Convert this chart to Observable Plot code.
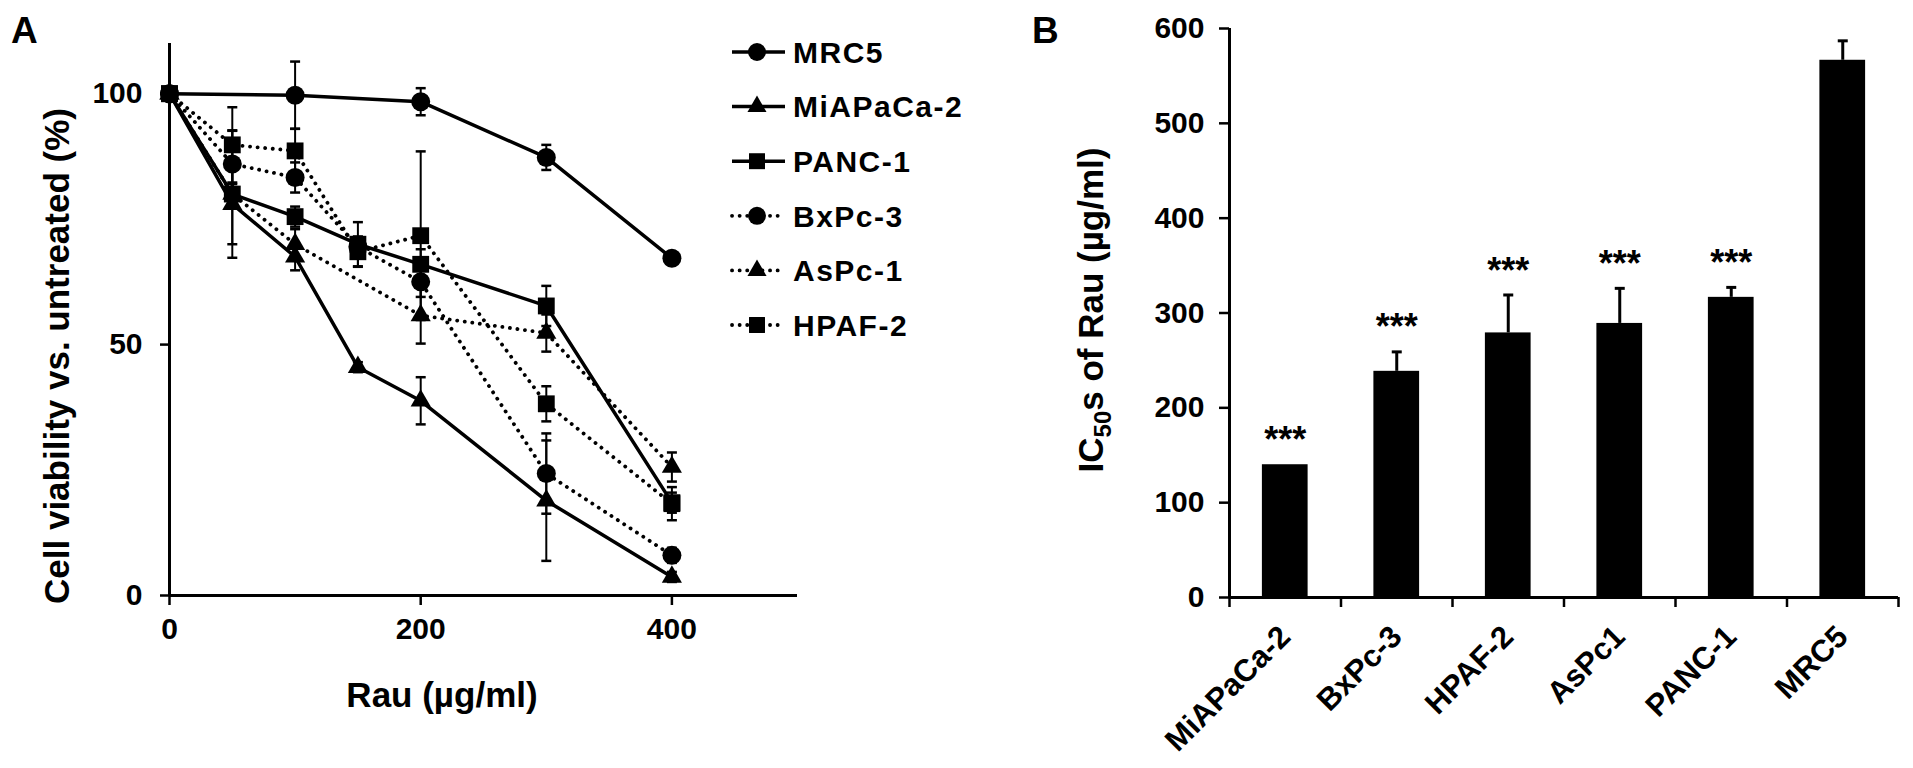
<!DOCTYPE html>
<html>
<head>
<meta charset="utf-8">
<script src="https://cdn.jsdelivr.net/npm/d3@7"></script>
<script src="https://cdn.jsdelivr.net/npm/@observablehq/plot@0.6"></script>
<style>
  body { margin: 0; background: #fff; }
  #wrap { position: relative; width: 1913px; height: 768px; overflow: hidden; background: #fff; }
  #wrap > svg { position: absolute; top: 0; }
</style>
</head>
<body>
<div id="wrap"></div>
<script>
// ---------- Panel A data ----------
const doses = [0, 50, 100, 150, 200, 300, 400];
const seriesNames = ["MRC5", "MiAPaCa-2", "PANC-1", "BxPc-3", "AsPc-1", "HPAF-2"];
const seriesSymbols = ["circle", "triangle", "square", "circle", "triangle", "square"];
const seriesDotted = [false, false, false, true, true, true];

const mrc5      = [100, null, 99.7, null, 98.4, 87.3, 67.2];
const mrc5Err   = [0,   null, 6.7,  null, 2.7,  2.5,  1.2];
const miapaca   = [100, 78,   67.5, 45.5, 38.8, 18.9, 3.7];
const miapacaErr= [0,   8,    2.7,  1,    4.7,  12,   1];
const panc1     = [100, 80,   75.5, 70,   66,   57.7, 18.5];
const panc1Err  = [0,   2,    2,    4.4,  3,    4,    2];
const bxpc3     = [100, 86,   83.3, 69.5, 62.5, 24.3, 8];
const bxpc3Err  = [0,   6.6,  3,    2,    3,    8,    1.5];
const aspc1     = [100, 80,   70,   null, 55.8, 52.3, 25.6];
const aspc1Err  = [0,   12.7, 3,    null, 5.6,  3.7,  2.9];
const hpaf2     = [100, 89.8, 88.6, 68.5, 71.7, 38.2, 18.3];
const hpaf2Err  = [0,   7.5,  4.4,  3,    16.8, 3.5,  3.3];

const xTicksA = [0, 200, 400];
const yTicksA = [0, 50, 100];

// ---------- Panel B data ----------
const cellLines = ["MiAPaCa-2", "BxPc-3", "HPAF-2", "AsPc1", "PANC-1", "MRC5"];
const ic50      = [140, 238.5, 279, 289, 316.5, 566.5];
const ic50Err   = [0, 20.5, 40, 37, 10.5, 20.5];
const signif    = ["***", "***", "***", "***", "***", ""];
const yTicksB   = [0, 100, 200, 300, 400, 500, 600];

// ---------- build tables ----------
const seriesValues = [mrc5, miapaca, panc1, bxpc3, aspc1, hpaf2];
const seriesErrors = [mrc5Err, miapacaErr, panc1Err, bxpc3Err, aspc1Err, hpaf2Err];
const rowsA = [];
seriesNames.forEach((name, s) => {
  doses.forEach((dose, i) => {
    const v = seriesValues[s][i];
    if (v == null) return;
    rowsA.push({series: name, dose, v, e: seriesErrors[s][i], dotted: seriesDotted[s]});
  });
});
const errA = rowsA.filter(d => d.e > 0);
const capsA = errA.flatMap(d => [{dose: d.dose, y: d.v - d.e}, {dose: d.dose, y: d.v + d.e}]);

const barsB = cellLines.map((name, i) => ({name, i, v: ic50[i], e: ic50Err[i], sig: signif[i]}));
const errB = barsB.filter(d => d.e > 0);

const FONT = "'Liberation Sans', Arial, Helvetica, sans-serif";
const capSymbol = {
  draw(ctx, size) {
    const w = Math.sqrt(size / Math.PI);
    ctx.moveTo(-w, 0);
    ctx.lineTo(w, 0);
  }
};
const smallTriangle = { draw(ctx, size) { d3.symbolTriangle.draw(ctx, size * 0.62); } };
const symbolObjects = {circle: d3.symbolCircle, triangle: smallTriangle, square: d3.symbolSquare};

const wrap = document.getElementById("wrap");

// ---------- Panel A ----------
const plotA = Plot.plot({
  width: 1000,
  height: 768,
  marginLeft: 169,
  marginRight: 203,
  marginTop: 43,
  marginBottom: 173,
  style: {fontFamily: FONT, fontWeight: "bold", color: "#000", background: "transparent", overflow: "visible"},
  x: {domain: [0, 500]},
  y: {domain: [0, 110]},
  symbol: {domain: seriesNames, range: seriesSymbols.map(s => symbolObjects[s])},
  marks: [
    Plot.axisX({ticks: xTicksA, tickSize: 10, tickPadding: 12, label: null, fontSize: 30, fontWeight: "bold", strokeWidth: 2.5}),
    Plot.axisY({ticks: yTicksA, tickSize: 9, tickPadding: 18, label: null, fontSize: 30, fontWeight: "bold", strokeWidth: 2.5}),
    Plot.ruleX([0], {strokeWidth: 3}),
    Plot.ruleY([0], {strokeWidth: 3}),
    Plot.ruleX(errA, {x: "dose", y1: d => d.v - d.e, y2: d => d.v + d.e, strokeWidth: 2}),
    Plot.dot(capsA, {x: "dose", y: "y", symbol: capSymbol, r: 5, fill: "none", stroke: "black", strokeWidth: 2.5}),
    Plot.line(rowsA.filter(d => !d.dotted), {x: "dose", y: "v", z: "series", stroke: "black", strokeWidth: 3.5}),
    Plot.line(rowsA.filter(d => d.dotted), {x: "dose", y: "v", z: "series", stroke: "black", strokeWidth: 3.8, strokeDasharray: "0.1,7.5", strokeLinecap: "round"}),
    Plot.dot(rowsA, {x: "dose", y: "v", symbol: "series", r: 9.5, fill: "black", stroke: "none"})
  ]
});
plotA.style.left = "0px";
wrap.appendChild(plotA);

// ---------- Panel B ----------
const plotB = Plot.plot({
  width: 913,
  height: 768,
  marginLeft: 229,
  marginRight: 15,
  marginTop: 28,
  marginBottom: 171,
  style: {fontFamily: FONT, fontWeight: "bold", color: "#000", background: "transparent", overflow: "visible"},
  x: {domain: [0, cellLines.length]},
  y: {domain: [0, 600]},
  marks: [
    Plot.rectY(barsB, {x1: d => d.i + 0.5 - 0.205, x2: d => d.i + 0.5 + 0.205, y: "v", fill: "black"}),
    Plot.ruleX(errB, {x: d => d.i + 0.5, y1: "v", y2: d => d.v + d.e, strokeWidth: 3}),
    Plot.dot(errB, {x: d => d.i + 0.5, y: d => d.v + d.e, symbol: capSymbol, r: 5, fill: "none", stroke: "black", strokeWidth: 3}),
    Plot.text(barsB, {x: d => d.i + 0.5, y: d => d.v + d.e, text: "sig", dy: -24, fontSize: 36, fontWeight: "bold", lineAnchor: "middle"}),
    Plot.axisY({ticks: yTicksB, tickSize: 10, tickPadding: 15, label: null, fontSize: 30, fontWeight: "bold", strokeWidth: 2.5}),
    Plot.axisX({ticks: d3.range(0, cellLines.length + 1), tickSize: 10, tickFormat: () => "", label: null, strokeWidth: 2.5}),
    Plot.axisX({ticks: cellLines.map((c, i) => i + 0.5), tickSize: 0, tickFormat: (d, i) => cellLines[i], tickRotate: -45, tickPadding: 34, label: null, fontSize: 31, fontWeight: "bold"}),
    Plot.ruleX([0], {strokeWidth: 3}),
    Plot.ruleY([0], {strokeWidth: 3})
  ]
});
plotB.style.left = "1000px";
wrap.appendChild(plotB);

// ---------- Overlay: panel letters, axis titles, legend ----------
const svg = d3.create("svg")
  .attr("width", 1913).attr("height", 768)
  .style("left", "0px")
  .style("pointer-events", "none")
  .attr("font-family", FONT)
  .attr("font-weight", "bold")
  .attr("fill", "#000");

svg.append("text").attr("x", 11).attr("y", 43).attr("font-size", 37).text("A");
svg.append("text").attr("x", 1032).attr("y", 43).attr("font-size", 37).text("B");

svg.append("text")
  .attr("transform", "translate(57,356) rotate(-90)")
  .attr("text-anchor", "middle").attr("dy", "0.35em").attr("font-size", 35)
  .text("Cell viability vs. untreated (%)");

svg.append("text")
  .attr("x", 442).attr("y", 707)
  .attr("text-anchor", "middle").attr("font-size", 35)
  .text("Rau (µg/ml)");

const tB = svg.append("text")
  .attr("transform", "translate(1091,310) rotate(-90)")
  .attr("text-anchor", "middle").attr("dy", "0.35em").attr("font-size", 35);
tB.append("tspan").text("IC");
tB.append("tspan").attr("font-size", 24).attr("dy", 8).text("50");
tB.append("tspan").attr("dy", -8).text("s of Rau (µg/ml)");

// legend
const legX1 = 732, legX2 = 785, legMark = 757, legText = 793, legY0 = 52, legStep = 54.6;
seriesNames.forEach((name, s) => {
  const y = legY0 + s * legStep;
  const g = svg.append("g");
  const line = g.append("line").attr("x1", legX1).attr("x2", legX2).attr("y1", y).attr("y2", y)
    .attr("stroke", "#000").attr("stroke-width", seriesDotted[s] ? 3.8 : 3.5);
  if (seriesDotted[s]) line.attr("stroke-dasharray", "0.1,7.5").attr("stroke-linecap", "round");
  const symType = symbolObjects[seriesSymbols[s]];
  g.append("path").attr("d", d3.symbol(symType, Math.PI * 81)()).attr("transform", `translate(${legMark},${y})`).attr("fill", "#000");
  g.append("text").attr("x", legText).attr("y", y).attr("dy", "0.36em").attr("font-size", 30)
    .attr("letter-spacing", 1.5).text(name);
});

wrap.appendChild(svg.node());
</script>
</body>
</html>
